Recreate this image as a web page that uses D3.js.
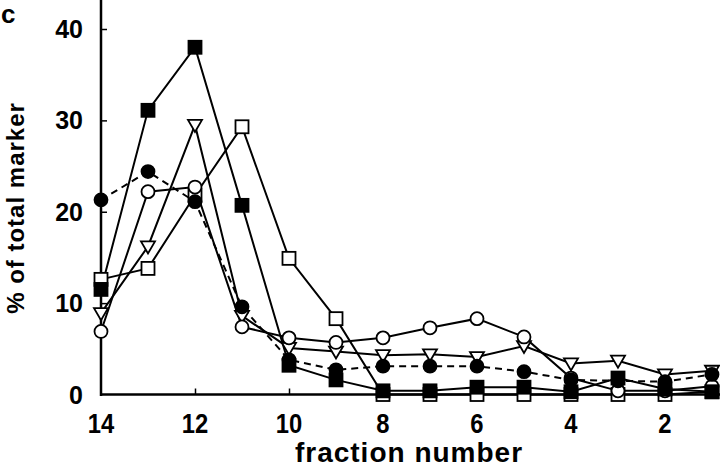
<!DOCTYPE html>
<html><head><meta charset="utf-8">
<script src="https://cdn.jsdelivr.net/npm/d3@7"></script>
<style>body{margin:0;background:#fff}svg{display:block}</style>
</head><body>
<svg id="c" width="720" height="469"></svg>
<script>
const fractions = [14,13,12,11,10,9,8,7,6,5,4,3,2,1];
const filledSquare = [11.5,31.1,38.0,20.7,3.2,1.6,0.4,0.4,0.8,0.8,0.3,1.8,0.6,0.3];
const filledCircle = [21.3,24.4,21.1,9.6,3.8,2.7,3.1,3.1,3.1,2.5,1.6,1.5,1.4,2.2];
const openCircle = [6.9,22.2,22.7,7.4,6.2,5.7,6.2,7.3,8.3,6.3,1.8,0.4,0.4,0.9];
const openTriangle = [8.9,16.2,29.5,8.6,5.1,4.7,4.3,4.4,4.1,5.3,3.4,3.7,2.2,2.6];
const openSquare = [12.6,13.8,21.8,29.3,14.9,8.3,0,0,0,0,0,0,0,0.3];
const xTicks = [14,12,10,8,6,4,2];
const yTicks = [0,10,20,30,40];

const svg = d3.select("#c");
const x = d3.scaleLinear().domain([14,1]).range([101,712]);
const y = d3.scaleLinear().domain([0,40]).range([394.5,29]);
const font = "'Liberation Sans', Arial, sans-serif";

const series = [
  {vals: openSquare, shape: "square", fill: "#fff", dash: null},
  {vals: openTriangle, shape: "triangle", fill: "#fff", dash: null},
  {vals: openCircle, shape: "circle", fill: "#fff", dash: null},
  {vals: filledCircle, shape: "circle", fill: "#000", dash: "7,5"},
  {vals: filledSquare, shape: "square", fill: "#000", dash: null}
];

const line = d3.line().x((d,i)=>x(fractions[i])).y(d=>y(d));
series.forEach(s=>{
  svg.append("path").attr("d", line(s.vals)).attr("fill","none")
    .attr("stroke","#000").attr("stroke-width",2)
    .attr("stroke-dasharray", s.dash);
});

// axes
const yAxis = d3.axisRight(y).tickValues(yTicks.filter(v=>v>0)).tickSize(6).tickFormat("");
const yg = svg.append("g").attr("transform","translate(101,0)").call(yAxis);
yg.select(".domain").remove();
yg.selectAll("line").attr("stroke-width",1.5);
svg.append("line").attr("x1",101).attr("x2",101).attr("y1",y(0)+1.5).attr("y2",0)
  .attr("stroke","#000").attr("stroke-width",2.5);
const xAxis = d3.axisTop(x).tickValues(xTicks.filter(v=>v!==14)).tickSize(6).tickFormat("");
const xg = svg.append("g").attr("transform",`translate(0,${y(0)})`).call(xAxis);
xg.select(".domain").remove();
xg.selectAll("line").attr("stroke-width",1.5);
svg.append("line").attr("x1",100).attr("x2",720).attr("y1",y(0)).attr("y2",y(0))
  .attr("stroke","#000").attr("stroke-width",2.5);

// markers
series.forEach(s=>{
  const g = svg.append("g");
  s.vals.forEach((v,i)=>{
    const cx = x(fractions[i]), cy = y(v);
    if (s.shape==="square") {
      g.append("rect").attr("x",cx-6.5).attr("y",cy-6.5).attr("width",13).attr("height",13)
        .attr("fill",s.fill).attr("stroke","#000").attr("stroke-width",1.8);
    } else if (s.shape==="circle") {
      g.append("circle").attr("cx",cx).attr("cy",cy).attr("r",6.5)
        .attr("fill",s.fill).attr("stroke","#000").attr("stroke-width",1.8);
    } else {
      g.append("path").attr("d",`M${cx-7},${cy-5}L${cx+7},${cy-5}L${cx},${cy+7}Z`)
        .attr("fill",s.fill).attr("stroke","#000").attr("stroke-width",1.8);
    }
  });
});

// tick labels
svg.append("g").selectAll("text").data(yTicks).join("text")
  .attr("x",83).attr("y",d=>y(d)+9).attr("text-anchor","end")
  .attr("font-family",font).attr("font-weight","bold").attr("font-size",25).text(d=>d);
svg.append("g").selectAll("text").data(xTicks).join("text")
  .attr("x",d=>x(d)).attr("y",433).attr("text-anchor","middle")
  .attr("font-family",font).attr("font-weight","bold").attr("font-size",28)
  .attr("transform",d=>`translate(${x(d)},0) scale(0.85,1) translate(${-x(d)},0)`).text(d=>d);

svg.append("text").attr("x",409).attr("y",462).attr("text-anchor","middle")
  .attr("font-family",font).attr("font-weight","bold").attr("font-size",28)
  .attr("letter-spacing",1)
  .text("fraction number");
svg.append("text").attr("transform","translate(24,208) rotate(-90)").attr("text-anchor","middle")
  .attr("font-family",font).attr("font-weight","bold").attr("font-size",24)
  .attr("letter-spacing",1)
  .text("% of total marker");
svg.append("text").attr("x",1).attr("y",23)
  .attr("font-family",font).attr("font-weight","bold").attr("font-size",26).text("c");
</script>
</body></html>
